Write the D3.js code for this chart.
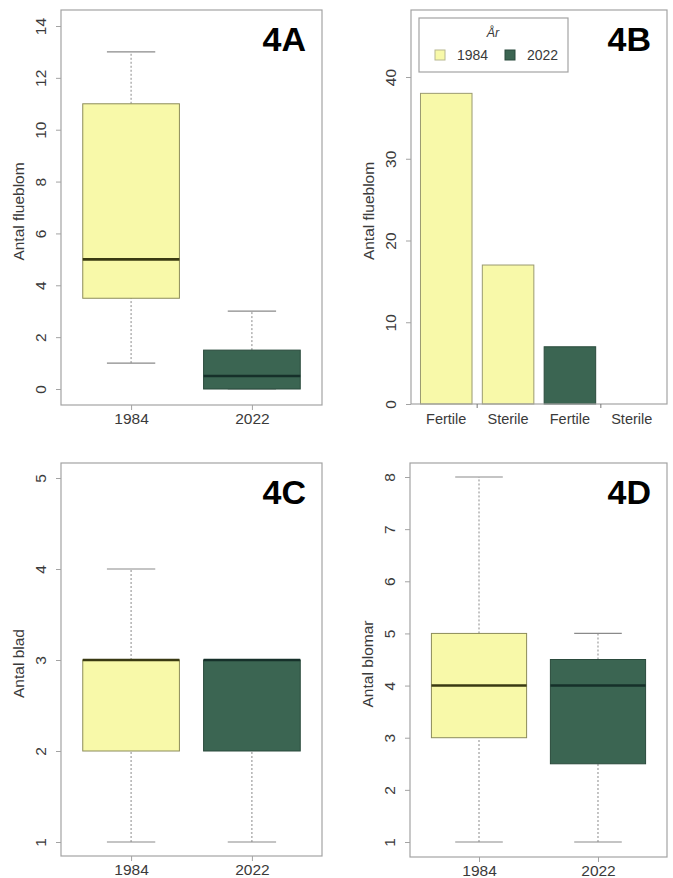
<!DOCTYPE html>
<html>
<head>
<meta charset="utf-8">
<script src="https://cdn.jsdelivr.net/npm/d3@7"></script>
<style>
  html, body { margin: 0; padding: 0; background: #fff; }
  svg { display: block; }
  text { font-family: "Liberation Sans", Arial, sans-serif; }
</style>
</head>
<body>
<svg id="chart" width="673" height="878"></svg>
<script>
// Groups (survey years) and their fills
const years = ["1984", "2022"];
const yearColors = ["#f8f9a9", "#3b6552"];
const medianColors = ["#3a3a12", "#16302a"];

// Box-plot summaries per year: [min, Q1, median, Q3, max]
const fluebloomStats = [[1, 3.5, 5, 11, 13], [0, 0, 0.5, 1.5, 3]];
const bladStats = [[1, 2, 3, 3, 4], [1, 2, 3, 3, 3]];
const blomarStats = [[1, 3, 4, 5, 8], [1, 2.5, 4, 4.5, 5]];

// Bar chart: flowering shoots by type and year
const barTypes = ["Fertile", "Sterile", "Fertile", "Sterile"];
const barYears = ["1984", "1984", "2022", "2022"];
const barCounts = [38, 17, 7, 0];

// Axis ticks
const ticksA = [0, 2, 4, 6, 8, 10, 12, 14];
const ticksB = [0, 10, 20, 30, 40];
const ticksC = [1, 2, 3, 4, 5];
const ticksD = [1, 2, 3, 4, 5, 6, 7, 8];

const svg = d3.select("#chart");
const frameColor = "#a3a3a3";
const textColor = "#3a3a3a";
const whiskerColor = "#8a8a8a";

function frame(g, f) {
  g.append("rect")
    .attr("x", f.left).attr("y", f.top)
    .attr("width", f.right - f.left).attr("height", f.bottom - f.top)
    .attr("fill", "none").attr("stroke", frameColor).attr("stroke-width", 1.2);
}

function yAxis(g, f, y, ticks, title) {
  const ax = d3.axisLeft(y).tickValues(ticks).tickSize(5).tickPadding(4).tickFormat(d3.format("d"));
  const a = g.append("g").attr("transform", `translate(${f.left},0)`).call(ax);
  a.select(".domain").remove();
  a.selectAll(".tick line").attr("stroke", frameColor);
  a.selectAll(".tick text")
    .attr("fill", textColor).attr("font-size", 15.5)
    .attr("x", null).attr("dy", null)
    .attr("text-anchor", "middle")
    .attr("transform", "translate(-21,0) rotate(-90)")
    .attr("dy", "0.36em");
  g.append("text")
    .attr("transform", `translate(${f.left - 42},${(f.top + f.bottom) / 2 + 4}) rotate(-90)`)
    .attr("text-anchor", "middle").attr("dy", "0.35em")
    .attr("font-size", 15.5).attr("fill", textColor)
    .text(title);
}

function panelLabel(g, f, label) {
  g.append("text")
    .attr("x", f.right - 16).attr("y", f.top + 41)
    .attr("text-anchor", "end")
    .attr("font-family", "'DejaVu Sans', sans-serif")
    .attr("font-weight", "bold").attr("font-size", 34)
    .attr("fill", "#000")
    .text(label);
}

function boxPanel(f, stats, ticks, tickPx, title, label) {
  const g = svg.append("g");
  const y = d3.scaleLinear().domain([ticks[0], ticks[ticks.length - 1]]).range(tickPx);
  // positions 1..n with 4% padding beyond 0.5..n+0.5
  const x = d3.scaleLinear().domain([0.42, 2.58]).range([f.left, f.right]);
  const bw = 0.8, cw = 0.4;

  stats.forEach((s, i) => {
    const [mn, q1, md, q3, mx] = s;
    const cx = x(i + 1);
    const x0 = x(i + 1 - bw / 2), x1 = x(i + 1 + bw / 2);
    const c0 = x(i + 1 - cw / 2), c1 = x(i + 1 + cw / 2);
    // whiskers
    [[mn, q1], [q3, mx]].forEach(([a, b]) => {
      if (a !== b) {
        g.append("line").attr("x1", cx).attr("x2", cx).attr("y1", y(a)).attr("y2", y(b))
          .attr("stroke", whiskerColor).attr("stroke-width", 1).attr("stroke-dasharray", "2,2");
      }
    });
    [mn, mx].forEach(v => {
      g.append("line").attr("x1", c0).attr("x2", c1).attr("y1", y(v)).attr("y2", y(v))
        .attr("stroke", whiskerColor).attr("stroke-width", 1.2);
    });
    g.append("rect")
      .attr("x", x0).attr("y", y(q3)).attr("width", x1 - x0).attr("height", y(q1) - y(q3))
      .attr("fill", yearColors[i]).attr("stroke", i === 0 ? "#8c8c5a" : "#2a4a3c").attr("stroke-width", 1);
    g.append("line").attr("x1", x0).attr("x2", x1).attr("y1", y(md)).attr("y2", y(md))
      .attr("stroke", medianColors[i]).attr("stroke-width", 2.6);
  });

  frame(g, f);
  yAxis(g, f, y, ticks, title);

  const xa = d3.axisBottom(x).tickValues([1, 2]).tickSize(5).tickPadding(5)
    .tickFormat((d, i) => years[i]);
  const a = g.append("g").attr("transform", `translate(0,${f.bottom})`).call(xa);
  a.select(".domain").remove();
  a.selectAll(".tick line").attr("stroke", frameColor);
  a.selectAll(".tick text").attr("fill", textColor).attr("font-size", 15.5)
    .attr("y", 19).attr("dy", null);

  panelLabel(g, f, label);
}

// Panel 4A
boxPanel({ left: 61, right: 322, top: 10, bottom: 405 }, fluebloomStats, ticksA, [389, 26], "Antal flueblom", "4A");
// Panel 4C
boxPanel({ left: 61, right: 322, top: 463, bottom: 856 }, bladStats, ticksC, [842, 478], "Antal blad", "4C");
// Panel 4D
boxPanel({ left: 410, right: 667, top: 463, bottom: 857 }, blomarStats, ticksD, [842, 477], "Antal blomar", "4D");

// Panel 4B: bar chart
(function () {
  const f = { left: 411, right: 667, top: 10, bottom: 404 };
  const g = svg.append("g");
  const y = d3.scaleLinear().domain([0, 40]).range([f.bottom, 77]);
  // bars of width 1 separated by 0.2
  const x = d3.scaleLinear().domain([0.016, 4.984]).range([f.left, f.right]);
  const left = i => 0.2 + i * 1.2;

  barCounts.forEach((v, i) => {
    const yi = years.indexOf(barYears[i]);
    g.append("rect")
      .attr("x", x(left(i))).attr("width", x(left(i) + 1) - x(left(i)))
      .attr("y", y(v)).attr("height", y(0) - y(v))
      .attr("fill", yearColors[yi]).attr("stroke", yi === 0 ? "#9a9a70" : "#2a4a3c").attr("stroke-width", 1);
  });

  frame(g, f);
  yAxis(g, f, y, ticksB, "Antal flueblom");

  // group ticks at the middle of each year's pair of bars
  const groupMid = [0, 1].map(k => (left(2 * k) + left(2 * k + 1) + 1) / 2);
  groupMid.forEach(m => {
    g.append("line").attr("x1", x(m)).attr("x2", x(m)).attr("y1", f.bottom).attr("y2", f.bottom + 4)
      .attr("stroke", "#777").attr("stroke-width", 1);
  });

  barTypes.forEach((t, i) => {
    g.append("text")
      .attr("x", x(left(i) + 0.5)).attr("y", f.bottom + 20)
      .attr("text-anchor", "middle").attr("font-size", 14.5).attr("fill", textColor)
      .text(t);
  });

  // legend
  const lg = g.append("g");
  lg.append("rect").attr("x", 419).attr("y", 18).attr("width", 149).attr("height", 54)
    .attr("fill", "#fff").attr("stroke", frameColor).attr("stroke-width", 1.2);
  lg.append("text").attr("x", 493).attr("y", 37).attr("text-anchor", "middle")
    .attr("font-size", 12.5).attr("font-style", "italic").attr("fill", textColor).text("År");
  years.forEach((yr, i) => {
    const ox = 435 + i * 70;
    lg.append("rect").attr("x", ox).attr("y", 50).attr("width", 10).attr("height", 10)
      .attr("fill", yearColors[i]).attr("stroke", i === 0 ? "#b8b890" : "#2a4a3c");
    lg.append("text").attr("x", ox + 22).attr("y", 60).attr("font-size", 14)
      .attr("fill", textColor).text(yr);
  });

  panelLabel(g, f, "4B");
})();
</script>
</body>
</html>
